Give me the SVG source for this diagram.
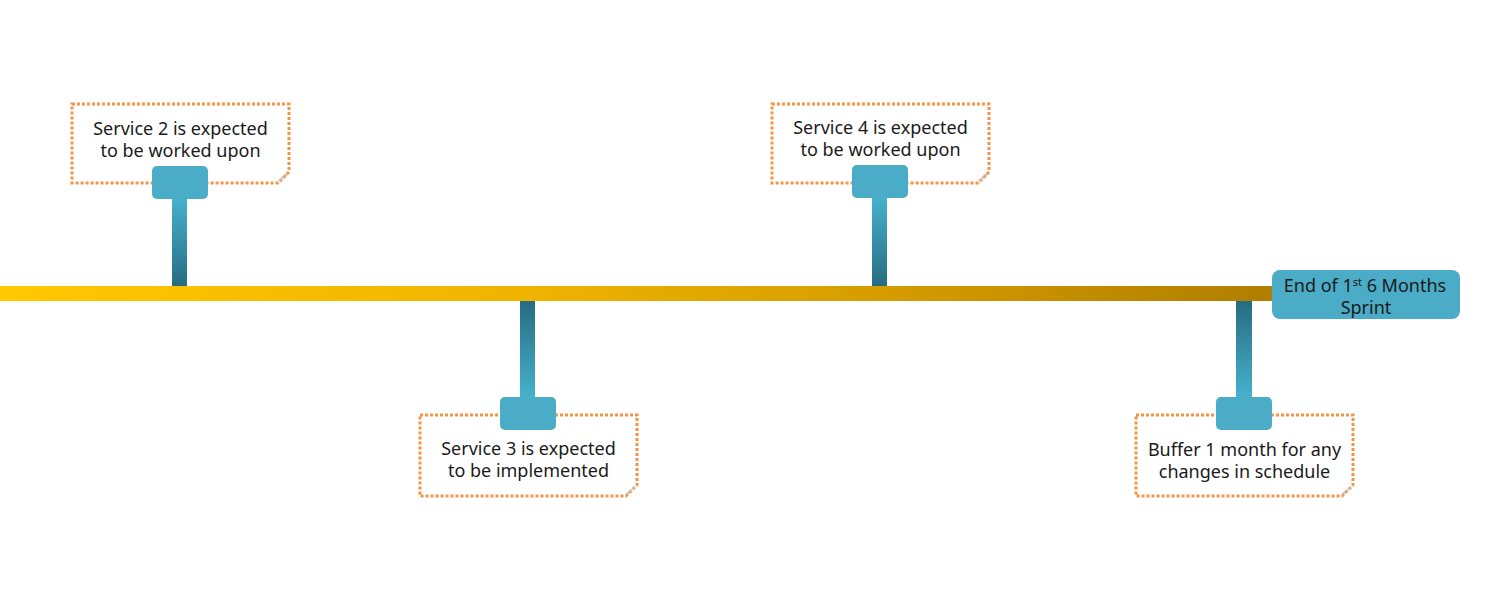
<svg xmlns="http://www.w3.org/2000/svg" width="1512" height="605" viewBox="0 0 1512 605">
<defs>
<linearGradient id="tl" x1="0" y1="0" x2="1" y2="0">
<stop offset="0" stop-color="#ffc800"/>
<stop offset="0.4" stop-color="#f0b400"/>
<stop offset="0.7" stop-color="#d49c00"/>
<stop offset="1" stop-color="#b07d00"/>
</linearGradient>
<linearGradient id="up" x1="0" y1="0" x2="0" y2="1">
<stop offset="0" stop-color="#46b2ce"/>
<stop offset="1" stop-color="#276c80"/>
</linearGradient>
<linearGradient id="down" x1="0" y1="0" x2="0" y2="1">
<stop offset="0" stop-color="#276c80"/>
<stop offset="1" stop-color="#46b2ce"/>
</linearGradient>
<style>
.note{fill:#fff;stroke:#f39447;stroke-width:3;stroke-dasharray:3 2;}
.fold{fill:none;stroke:#c4c4c4;stroke-width:2.5;stroke-dasharray:2.5 1.5;}
.cap{fill:#4aacc6;}
.t{font-family:"Noto Sans","Liberation Sans",sans-serif;font-size:18px;fill:#1a1a1a;text-anchor:middle;}
</style>
</defs>
<rect width="1512" height="605" fill="#fff"/>
<g id="connectors">
<rect x="0" y="286" width="1276" height="15" fill="url(#tl)"/>
<rect x="172" y="198" width="15" height="88" fill="url(#up)"/>
<rect x="872" y="197" width="15" height="89" fill="url(#up)"/>
<rect x="520" y="301" width="15" height="97" fill="url(#down)"/>
<rect x="1236" y="301" width="16" height="97" fill="url(#down)"/>
</g>
<g id="service2">
<path class="note" d="M72,104 H289 V172 L278,183 H72 Z"/>
<path class="fold" d="M279,181 L287,174"/>
<rect class="cap" x="152" y="166" width="56" height="33" rx="5"/>
<text class="t" x="180.5" y="135">Service 2 is expected</text>
<text class="t" x="180.5" y="157">to be worked upon</text>
</g>
<g id="service4">
<path class="note" d="M772,104 H989 V172 L978,183 H772 Z"/>
<path class="fold" d="M979,181 L987,174"/>
<rect class="cap" x="852" y="165" width="56" height="33" rx="5"/>
<text class="t" x="880.5" y="134">Service 4 is expected</text>
<text class="t" x="880.5" y="156">to be worked upon</text>
</g>
<g id="service3">
<path class="note" d="M420,415 H637 V485 L626,496 H420 Z"/>
<path class="fold" d="M627,494 L635,487"/>
<rect class="cap" x="500" y="397" width="56" height="33" rx="5"/>
<text class="t" x="528.5" y="455">Service 3 is expected</text>
<text class="t" x="528.5" y="477">to be implemented</text>
</g>
<g id="buffer">
<path class="note" d="M1136,415 H1353 V485 L1342,496 H1136 Z"/>
<path class="fold" d="M1343,494 L1351,487"/>
<rect class="cap" x="1216" y="397" width="56" height="33" rx="5"/>
<text class="t" x="1244.5" y="456">Buffer 1 month for any</text>
<text class="t" x="1244.5" y="478">changes in schedule</text>
</g>
<g id="end">
<rect class="cap" x="1272" y="270" width="188" height="49" rx="8"/>
<text class="t" x="1365" y="292">End of 1<tspan font-size="11" dy="-6">st</tspan><tspan dy="6"> 6 Months</tspan></text>
<text class="t" x="1366" y="314">Sprint</text>
</g>
</svg>
